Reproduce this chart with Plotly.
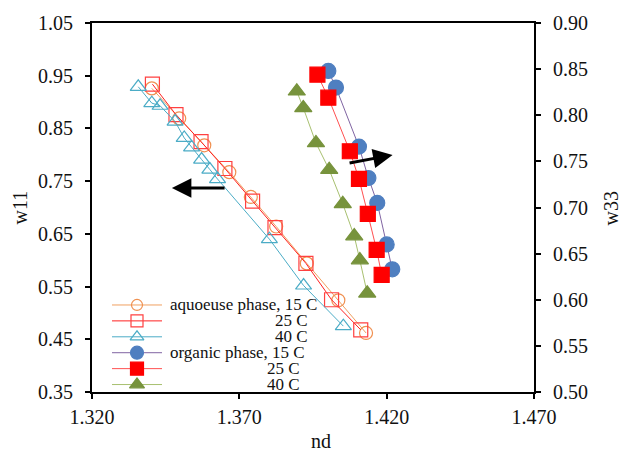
import plotly.graph_objects as go

# ---------------- data ----------------
aq15_x = [1.3403, 1.3496, 1.3581, 1.3666, 1.3739, 1.3825, 1.3929, 1.4036, 1.4130]
aq15_y = [0.926, 0.869, 0.818, 0.767, 0.720, 0.664, 0.594, 0.524, 0.462]

aq25_x = [1.3405, 1.3485, 1.3570, 1.3651, 1.3745, 1.3821, 1.3926, 1.4013, 1.4112]
aq25_y = [0.934, 0.876, 0.825, 0.774, 0.712, 0.662, 0.594, 0.525, 0.468]

aq40_x = [1.3357, 1.3403, 1.3431, 1.3482, 1.3513, 1.3538, 1.3572, 1.3600, 1.3626, 1.3802, 1.3918, 1.4053]
aq40_y = [0.929, 0.898, 0.893, 0.863, 0.832, 0.814, 0.791, 0.772, 0.754, 0.640, 0.552, 0.475]

org15_x = [1.4002, 1.4028, 1.4106, 1.4138, 1.4168, 1.4200, 1.4219]
org15_y = [0.848, 0.830, 0.766, 0.732, 0.705, 0.660, 0.633]

org25_x = [1.3965, 1.4002, 1.4075, 1.4106, 1.4136, 1.4166, 1.4183]
org25_y = [0.844, 0.819, 0.761, 0.731, 0.693, 0.654, 0.627]

org40_x = [1.3895, 1.3917, 1.3960, 1.4005, 1.4051, 1.4090, 1.4109, 1.4134]
org40_y = [0.826, 0.808, 0.770, 0.741, 0.704, 0.669, 0.643, 0.607]

legend_labels = ["aquoeuse phase, 15 C", "25 C", "40 C", "organic phase, 15 C", "25 C", "40 C"]

x_ticks = [1.320, 1.370, 1.420, 1.470]

# ---------------- styles ----------------
FONT = "Liberation Serif, Times New Roman, DejaVu Serif, serif"
styles = [
    dict(lc="#F0A060", sym="circle-open", mc="#F09050", ms=13, ax="y"),
    dict(lc="#FF2020", sym="square-open", mc="#FF4040", ms=14, ax="y"),
    dict(lc="#4BACC6", sym="triangle-up-open", mc="#4BACC6", ms=14, ax="y"),
    dict(lc="#8064A2", sym="circle", mc="#4F7FC0", ms=15, ax="y2"),
    dict(lc="#FF5050", sym="square", mc="#FF0000", ms=15, ax="y2"),
    dict(lc="#A8C070", sym="triangle-up", mc="#77933C", ms=15, ax="y2"),
]
series = [(aq15_x, aq15_y), (aq25_x, aq25_y), (aq40_x, aq40_y),
          (org15_x, org15_y), (org25_x, org25_y), (org40_x, org40_y)]

fig = go.Figure()
for (xs, ys), st in zip(series, styles):
    fig.add_trace(go.Scatter(
        x=xs, y=ys, yaxis=st["ax"], mode="lines+markers",
        line=dict(color=st["lc"], width=1),
        marker=dict(symbol=st["sym"], color=st["mc"], size=st["ms"],
                    line=dict(width=1.2, color=st["mc"])),
        showlegend=False, hoverinfo="skip"))

# ---------------- manual legend (plot-local pixel axes) ----------------
row_y = [87.5, 71.5, 55.5, 39.5, 23.5, 7.5]
for st, ry in zip(styles, row_y):
    fig.add_trace(go.Scatter(
        x=[20, 70], y=[ry, ry], xaxis="x3", yaxis="y3", mode="lines",
        line=dict(color=st["lc"], width=1), showlegend=False, hoverinfo="skip"))
    fig.add_trace(go.Scatter(
        x=[45], y=[ry], xaxis="x3", yaxis="y3", mode="markers",
        marker=dict(symbol=st["sym"], color=st["mc"], size=st["ms"] - 2,
                    line=dict(width=1.2, color=st["mc"])),
        showlegend=False, hoverinfo="skip"))

annotations = []
label_pos = [("l", 76), ("r", 218), ("r", 218), ("l", 76), ("r", 210), ("r", 210)]
for lab, (anc, lx), ry in zip(legend_labels, label_pos, row_y):
    annotations.append(dict(
        text=lab, x=lx, y=ry, xref="x3", yref="y3", showarrow=False,
        xanchor="left" if anc == "l" else "right", yanchor="middle",
        font=dict(family=FONT, size=17, color="#111")))

# arrows
annotations.append(dict(x=1.3471, y=0.737, ax=1.3655, ay=0.737, xref="x", yref="y",
                        axref="x", ayref="y", showarrow=True, arrowhead=2,
                        arrowsize=1.3, arrowwidth=3, arrowcolor="black", text=""))
annotations.append(dict(x=1.4220, y=0.757, ax=1.4069, ay=0.748, xref="x", yref="y2",
                        axref="x", ayref="y2", showarrow=True, arrowhead=2,
                        arrowsize=1.3, arrowwidth=3, arrowcolor="black", text=""))

# axis titles
title_font = dict(family=FONT, size=20, color="#111")
annotations += [
    dict(text="w11", x=-0.163, y=0.5, xref="paper", yref="paper", textangle=-90,
         xanchor="center", yanchor="middle", showarrow=False, font=title_font),
    dict(text="w33", x=1.174, y=0.497, xref="paper", yref="paper", textangle=-90,
         xanchor="center", yanchor="middle", showarrow=False, font=title_font),
    dict(text="nd", x=0.517, y=-0.132, xref="paper", yref="paper",
         xanchor="center", yanchor="middle", showarrow=False, font=title_font),
]

axis_common = dict(showline=True, linecolor="black", linewidth=2, ticks="outside",
                   ticklen=5, tickwidth=2, tickcolor="black", showgrid=False, zeroline=False,
                   tickfont=dict(family=FONT, size=20, color="#111"))

fig.update_layout(
    width=624, height=452,
    margin=dict(l=92, r=90, t=21, b=60),
    paper_bgcolor="white", plot_bgcolor="white",
    font=dict(family=FONT),
    xaxis=dict(range=[1.32, 1.47], tickvals=x_ticks, tickformat=".3f", mirror=True,
               ticklabelstandoff=1, **axis_common),
    yaxis=dict(range=[0.35, 1.05], dtick=0.1, tick0=0.35, tickformat=".2f",
               ticklabelstandoff=8, **axis_common),
    yaxis2=dict(range=[0.5, 0.9], dtick=0.05, tick0=0.5, tickformat=".2f",
                overlaying="y", side="right", ticklabelstandoff=8, **axis_common),
    xaxis3=dict(range=[0, 442], overlaying="x", visible=False, fixedrange=True),
    yaxis3=dict(range=[0, 371], overlaying="y", visible=False, fixedrange=True),
    annotations=annotations,
    showlegend=False,
)

fig.write_html("out.html")
